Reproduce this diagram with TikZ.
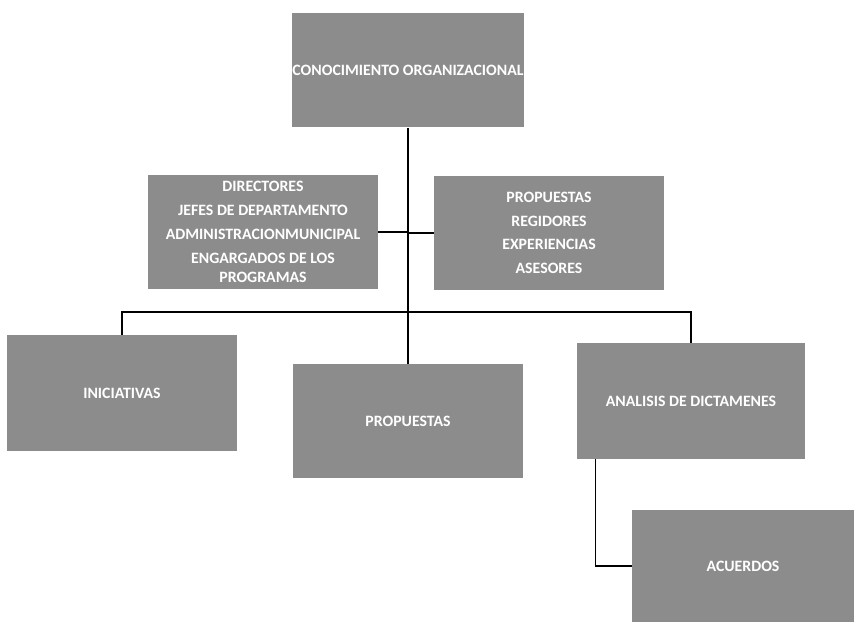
\documentclass[tikz,border=0pt]{standalone}
\usepackage{fontspec}
\setmainfont{Carlito}
\usepackage{tikz}
\usetikzlibrary{positioning,calc}
\definecolor{boxgray}{RGB}{140,140,140}

\begin{document}
\begin{tikzpicture}[x=0.02cm, y=-0.02cm,
    box/.style={fill=boxgray, text=white, align=center,
        font=\fontsize{9}{11}\selectfont\bfseries},
    link/.style={line width=0.7pt}]
    \useasboundingbox (0,0) rectangle (854,623);
    % Top
    \node [box,
        inner xsep=0pt,
        minimum width=4.6cm,
        minimum height=2.3cm
    ]  (Conocimiento) at (408,70) {CONOCIMIENTO ORGANIZACIONAL};
    % Middle row
    \node [box,
        minimum width=4.6cm,
        minimum height=2.28cm
    ]  (Directores) at (263,232) {DIRECTORES\\[2.5pt]
        JEFES DE DEPARTAMENTO\\[2.5pt]
        ADMINISTRACIONMUNICIPAL\\[2.5pt]
        ENGARGADOS DE LOS\\PROGRAMAS};
    \node [box,
        minimum width=4.6cm,
        minimum height=2.28cm
    ]  (Regidores) at (549,233) {PROPUESTAS\\[2.5pt]
        REGIDORES\\[2.5pt]
        EXPERIENCIAS\\[2.5pt]
        ASESORES};
    % Bottom row
    \node [box,
        minimum width=4.62cm,
        minimum height=2.32cm
    ]  (Iniciativas) at (122,393) {INICIATIVAS};
    \node [box,
        minimum width=4.6cm,
        minimum height=2.28cm
    ]  (Propuestas) at (408,421) {PROPUESTAS};
    \node [box,
        minimum width=4.56cm,
        minimum height=2.32cm
    ]  (Analisis) at (691,401) {ANALISIS DE DICTAMENES};
    \node [box,
        minimum width=4.44cm,
        minimum height=2.24cm
    ]  (Acuerdos) at (743,566) {ACUERDOS};
    % Lines
    \draw[link] (Conocimiento.south) -- (Propuestas.north);
    \draw[link] (Directores.east) -- (Conocimiento.south |- Directores.east);
    \draw[link] (Regidores.west) -- (Conocimiento.south |- Regidores.west);
    \draw[link] (Iniciativas.north) -- (Iniciativas.north |- 0,312)
        -| (Analisis.north);
    \draw[link] ([xshift=0.38cm]Analisis.south west) |- (Acuerdos.west);

\end{tikzpicture}
\end{document}
